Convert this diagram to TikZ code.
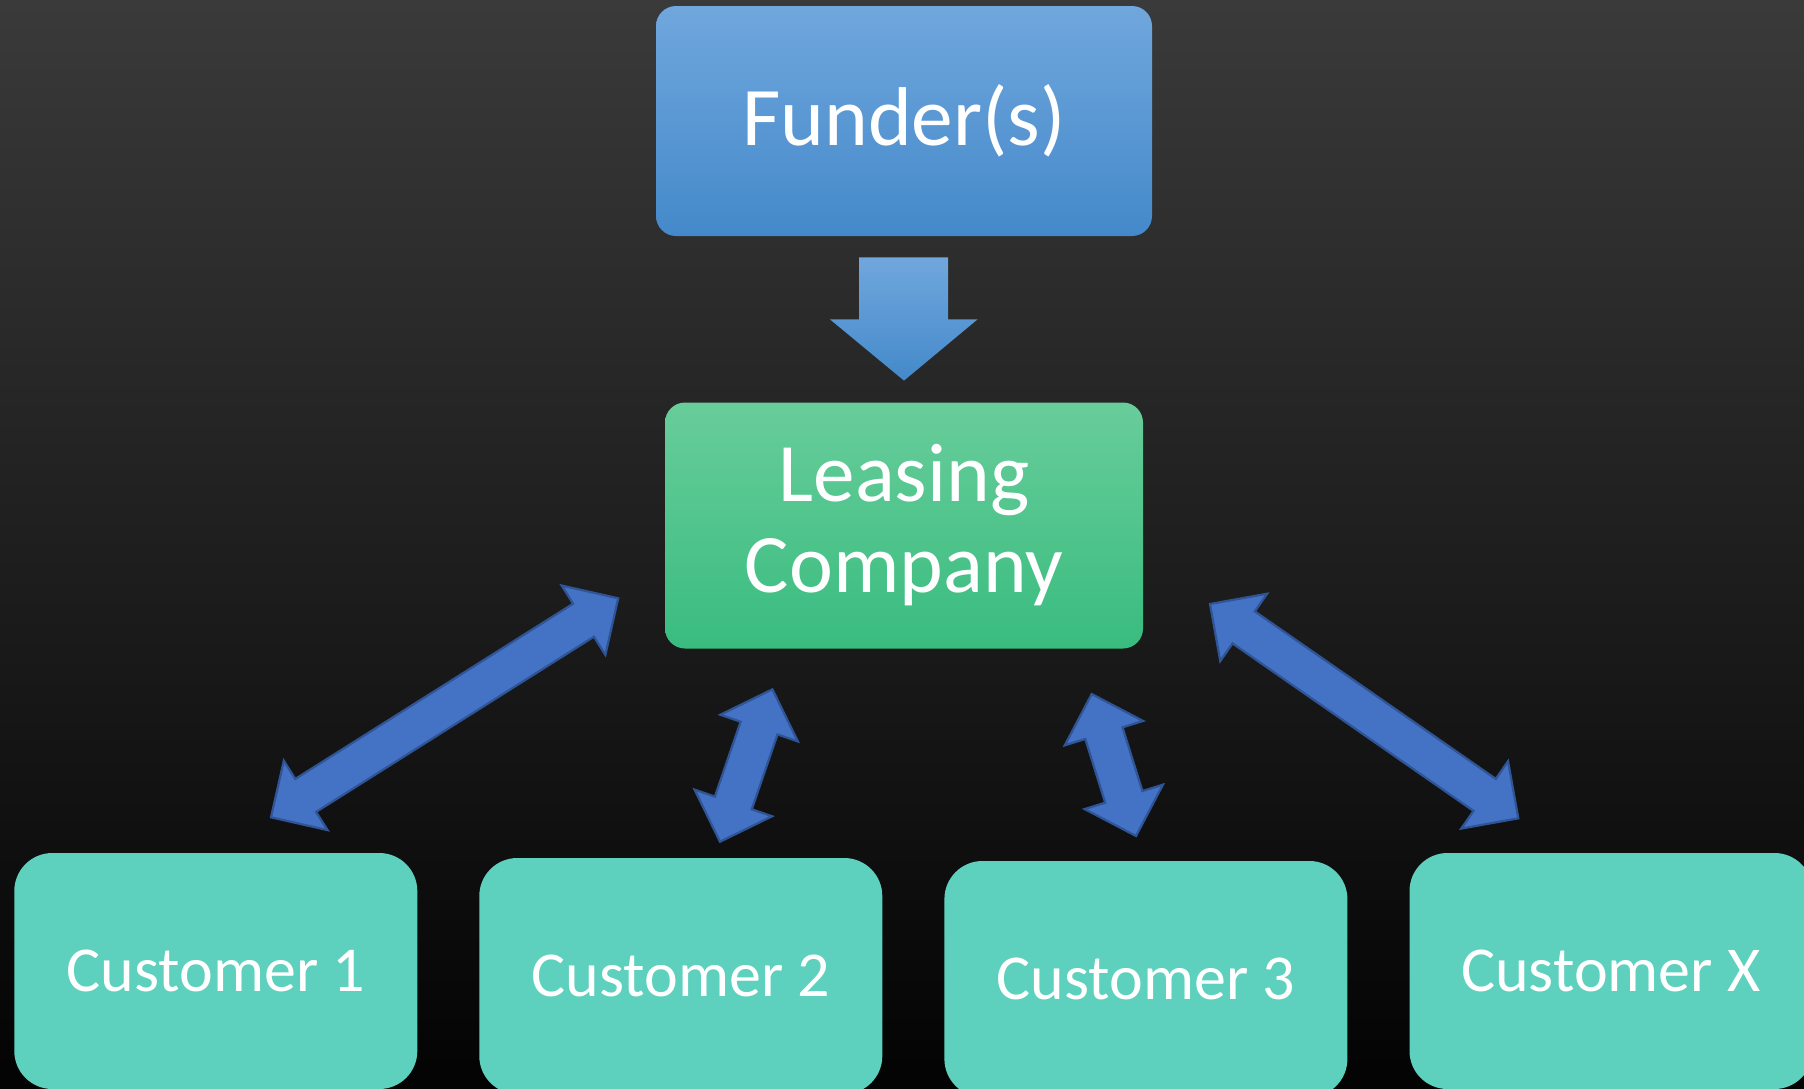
\documentclass[tikz,border=0pt]{standalone}
\usepackage{fontspec}
\setmainfont{Carlito}
\usetikzlibrary{calc}
\definecolor{bgtop}{RGB}{58,58,58}
\definecolor{bgbot}{RGB}{3,3,3}
\definecolor{fundtop}{RGB}{112,167,221}
\definecolor{fundbot}{RGB}{68,137,202}
\definecolor{leastop}{RGB}{104,205,154}
\definecolor{leasbot}{RGB}{57,188,127}
\definecolor{custfill}{RGB}{94,208,190}
\definecolor{arrfill}{RGB}{68,114,196}
\definecolor{arrline}{RGB}{47,85,151}
\newcommand\hl{20.5pt}
\newcommand\hw{20.5pt}
\newcommand\sw{9.75pt}
\newcommand\dblarrow[2]{%
  \coordinate (#1-h) at ($(#1)!\hl!(#2)$);
  \coordinate (#2-h) at ($(#2)!\hl!(#1)$);
  \draw[dblarr] (#1)
    -- ($(#1-h)!\hw!90:(#2)$) -- ($(#1-h)!\sw!90:(#2)$)
    -- ($(#2-h)!\sw!-90:(#1)$) -- ($(#2-h)!\hw!-90:(#1)$)
    -- (#2)
    -- ($(#2-h)!\hw!90:(#1)$) -- ($(#2-h)!\sw!90:(#1)$)
    -- ($(#1-h)!\sw!-90:(#2)$) -- ($(#1-h)!\hw!-90:(#2)$)
    -- cycle;}
\tikzset{
  boxtext/.style={text=white, inner sep=0pt, align=center},
  fundbox/.style={boxtext, rounded corners=10pt, top color=fundtop, bottom color=fundbot,
    minimum width=248pt, minimum height=115pt, font=\fontsize{41.7}{45.5}\selectfont},
  leasbox/.style={boxtext, rounded corners=10pt, top color=leastop, bottom color=leasbot,
    minimum width=239pt, minimum height=123pt, font=\fontsize{41.6}{45.5}\selectfont},
  custbox/.style={boxtext, rounded corners=19pt, fill=custfill,
    minimum width=201.5pt, minimum height=118pt, font=\fontsize{32}{38}\selectfont},
  downarr/.style={top color=fundtop, bottom color=fundbot, draw=none},
  dblarr/.style={fill=arrfill, draw=arrline, line width=1.1pt, line join=miter},
}
\begin{document}
\begin{tikzpicture}[x=0.5pt,y=-0.5pt]
\path[use as bounding box, top color=bgtop, bottom color=bgbot] (0,0) rectangle (1804,1088);

\node[fundbox] (funder) at (904,121) {Funder(s)};
\node[leasbox] (leasing) at (904,525.5) {Leasing\\Company};

\node[custbox] (c1) at (215.8,971) {Customer 1};
\node[custbox] (c2) at (680.8,976) {Customer 2};
\node[custbox] (c3) at (1145.9,979) {Customer 3};
\node[custbox] (cx) at (1611,971) {Customer X};

% block arrow funder -> leasing
\path[downarr] ($(funder.south)+(-45,21)$) -- ($(funder.south)+(44,21)$)
  -- ($(funder.south)+(44,83)$) -- ($(funder.south)+(73.5,83)$)
  -- ($(leasing.north)+(0,-21.5)$)
  -- ($(funder.south)+(-74,83)$) -- ($(funder.south)+(-45,83)$) -- cycle;

% double arrows
\coordinate (a1) at (271,817.3);   \coordinate (a2) at (618.2,598.3);
\coordinate (b1) at (720,841.7);   \coordinate (b2) at (772.4,689.3);
\coordinate (e1) at (1136,836);    \coordinate (e2) at (1091.7,694);
\coordinate (d1) at (1518.3,818.3); \coordinate (d2) at (1210,604);
\dblarrow{a1}{a2}
\dblarrow{b1}{b2}
\dblarrow{e1}{e2}
\dblarrow{d1}{d2}
\end{tikzpicture}
\end{document}
